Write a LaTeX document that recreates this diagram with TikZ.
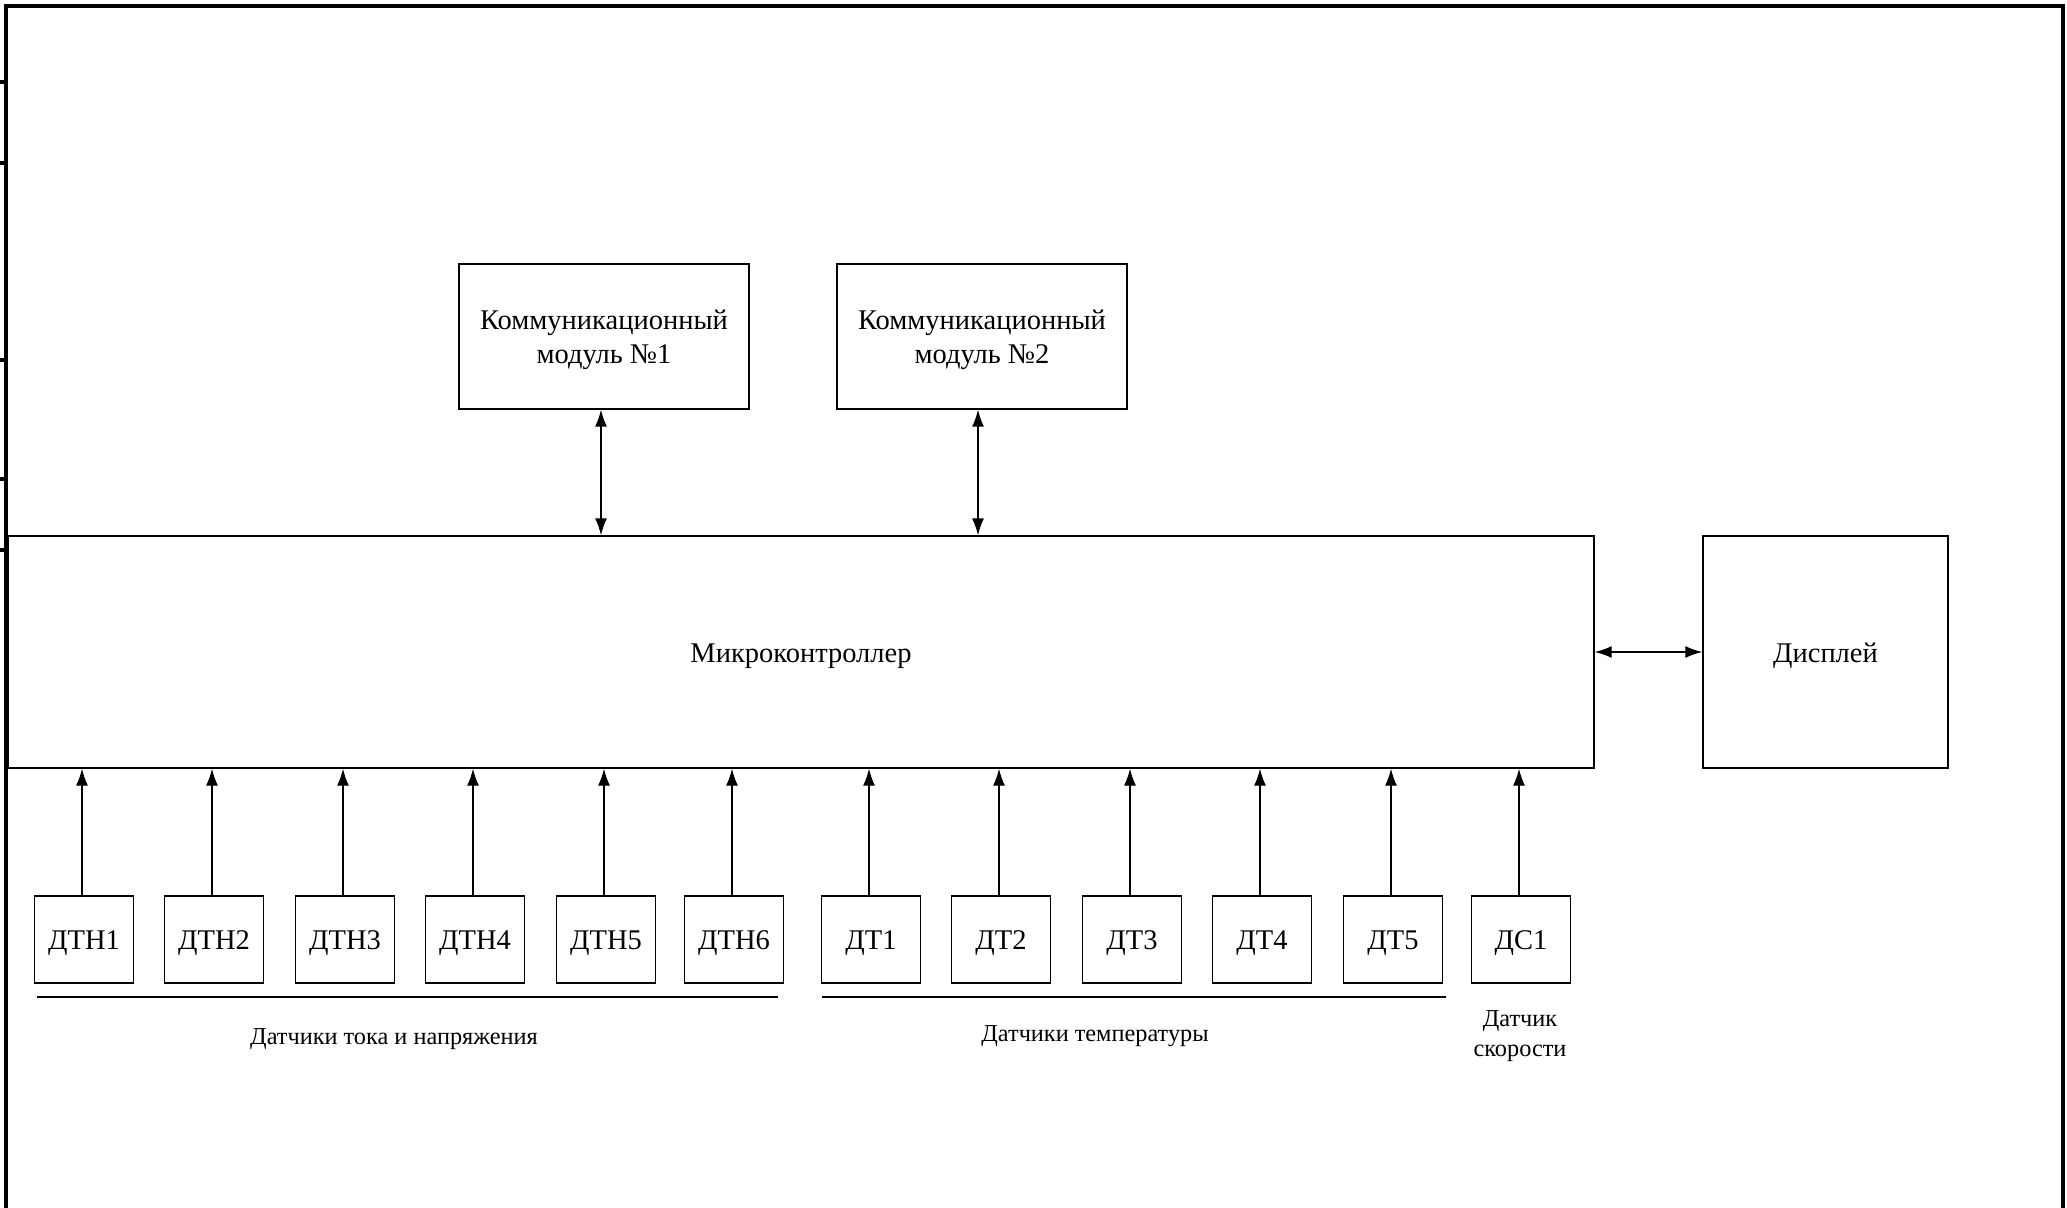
\documentclass[tikz,border=0pt]{standalone}
\usepackage{fontspec}
\setmainfont{Liberation Serif}
\usetikzlibrary{arrows.meta}
\begin{document}
\begin{tikzpicture}[x=0.5pt,y=-0.5pt,
  blk/.style={draw,line width=0.7pt,inner sep=0pt,align=center,
    font=\fontsize{14.25}{17}\selectfont},
  one/.style={text height=10.2pt,text depth=0pt},
  sens/.style={blk,one,minimum width=49.5pt,minimum height=43.5pt},
  lbl/.style={inner sep=0pt,align=center,font=\fontsize{12.15}{15}\selectfont},
  tip/.tip={Latex[length=8.5pt,width=6pt]},
  sig/.style={line width=0.7pt,-tip},
  bisig/.style={line width=0.7pt,tip-tip},
  sheet/.style={line width=2.3pt},
  groupline/.style={line width=0.7pt}]
\useasboundingbox (0,0) rectangle (2067,1208);

% sheet border with the side-table ticks
\draw[sheet] (6,1208) -- (6,6) -- (2063,6) -- (2063,1208);
\foreach \ty in {82,163,360,479,550}
  \draw[sheet] (0,\ty) -- (6,\ty);

% main blocks
\node[blk,one,minimum width=793pt,minimum height=116pt] (mc) at (801,652) {Микроконтроллер};
\node[blk,one,minimum width=122.5pt,minimum height=116pt] (disp) at (1825.5,652) {Дисплей};
\node[blk,minimum width=145pt,minimum height=72.5pt] (cm1) at (604,336.5) {\rule{0pt}{13pt}Коммуникационный\\модуль №1};
\node[blk,minimum width=145pt,minimum height=72.5pt] (cm2) at (982,336.5) {\rule{0pt}{13pt}Коммуникационный\\модуль №2};

% links to the communication modules and the display
\path (cm1.south) ++(-3,0) coordinate (a1);
\path (cm2.south) ++(-4,0) coordinate (a2);
\draw[bisig] (a1) -- (a1 |- mc.north);
\draw[bisig] (a2) -- (a2 |- mc.north);
\draw[bisig] (mc.east) -- (disp.west);

% sensors
\foreach \n/\t/\cx in {dtn1/ДТН1/84, dtn2/ДТН2/214, dtn3/ДТН3/345, dtn4/ДТН4/475,
    dtn5/ДТН5/606, dtn6/ДТН6/734, dt1/ДТ1/871, dt2/ДТ2/1001, dt3/ДТ3/1132,
    dt4/ДТ4/1262, dt5/ДТ5/1393, ds1/ДС1/1521}{
  \node[sens] (\n) at (\cx,939.5) {\t};
  \path (\n.north) ++(-2,0) coordinate (s\n);
  \draw[sig] (s\n) -- (s\n |- mc.south);
}

% sensor groups
\draw[groupline] (37,997) -- (778,997);
\draw[groupline] (822,997) -- (1446,997);
\node[lbl] (g1) at (394,1039) {Датчики тока и напряжения};
\node[lbl] (g2) at (1095,1036) {Датчики температуры};
\node[lbl] (g3) at (1520,1036) {Датчик\\скорости};
\end{tikzpicture}
\end{document}
